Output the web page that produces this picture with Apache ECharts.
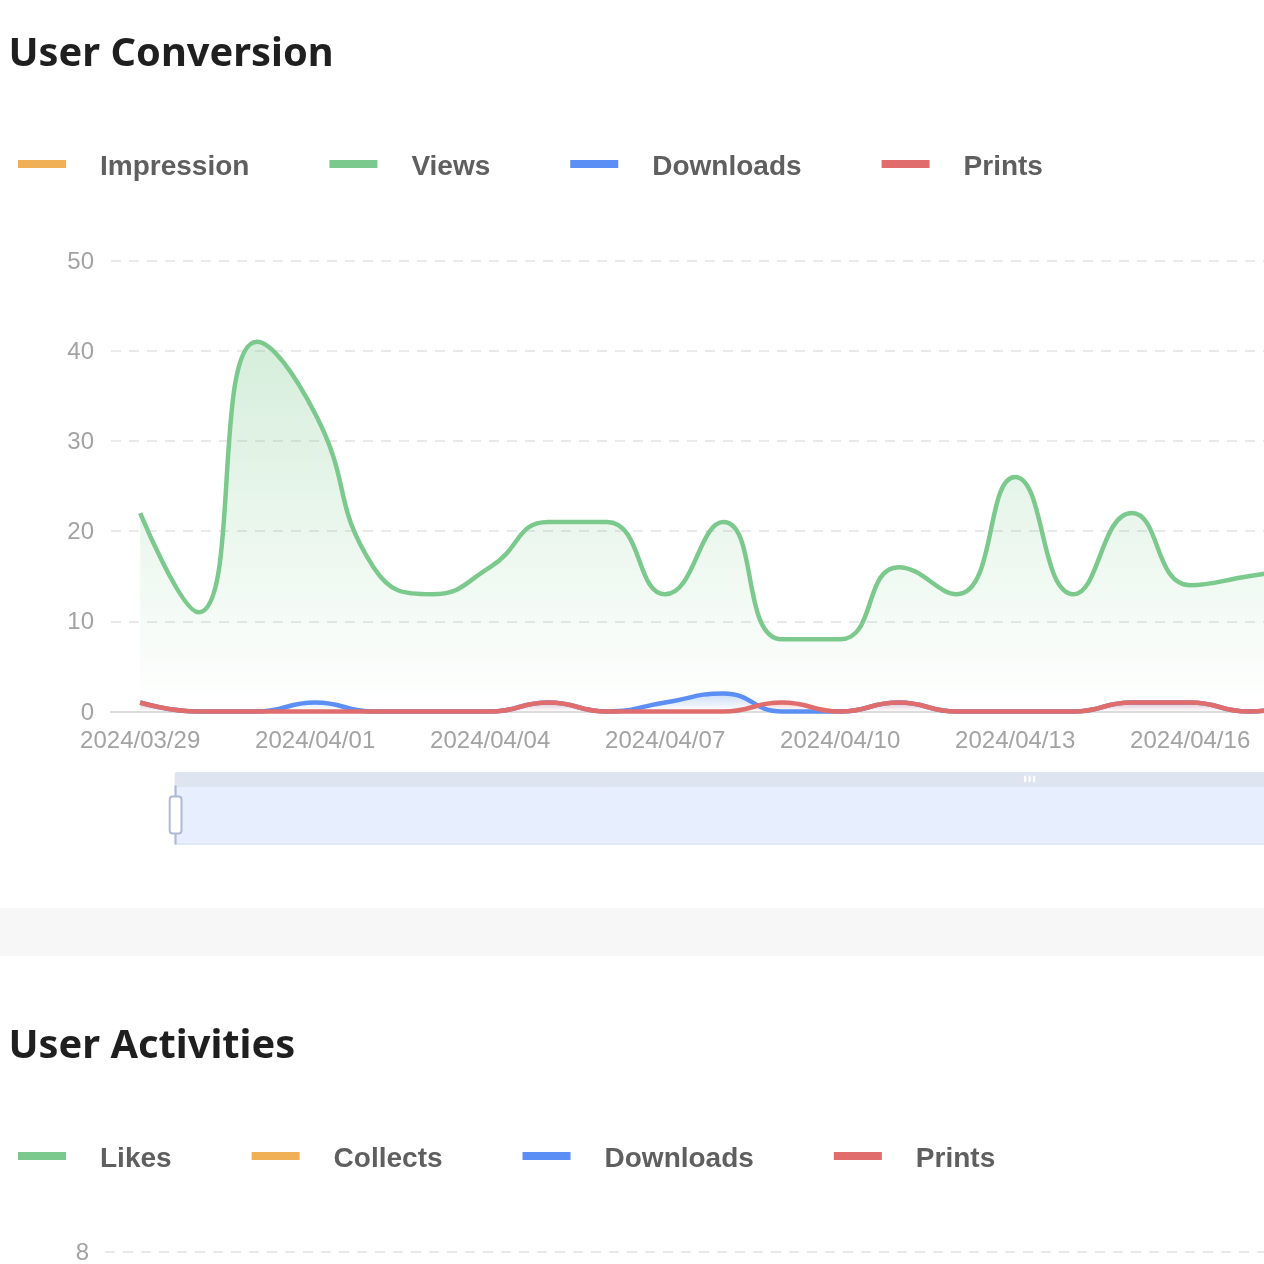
<!DOCTYPE html>
<html><head><meta charset="utf-8">
<style>
html,body{margin:0;padding:0;width:1264px;height:1264px;overflow:hidden;background:#fff}
#c1{position:absolute;left:0;top:0;width:1920px;height:908px}
#band{position:absolute;left:0;top:908px;width:1264px;height:48px;background:#f7f7f7}
#c2{position:absolute;left:0;top:956px;width:1920px;height:900px}
</style>
<script src="https://cdn.jsdelivr.net/npm/echarts@6/dist/echarts.min.js"></script>
</head><body>
<div id="c1"></div><div id="band"></div><div id="c2"></div>
<script>
const days = ['2024/03/29','2024/03/30','2024/03/31','2024/04/01','2024/04/02','2024/04/03','2024/04/04','2024/04/05','2024/04/06','2024/04/07','2024/04/08','2024/04/09','2024/04/10','2024/04/11','2024/04/12','2024/04/13','2024/04/14','2024/04/15','2024/04/16','2024/04/17','2024/04/18'];
const views = [22,11,41,33,16,13,16,21,21,13,21,8,8,16,13,26,13,22,14,15,16];
const downloads = [1,0,0,1,0,0,0,1,0,1,2,0,0,1,0,0,0,1,1,0,1];
const prints = [1,0,0,0,0,0,0,1,0,0,0,1,0,1,0,0,0,1,1,0,1];
const GREEN='#7cc98d', ORANGE='#f0b055', BLUE='#5b8ff5', RED='#e06c6c';
const FONT='"Liberation Sans",Arial,sans-serif';

function legendCfg(names,top){return {
  left:18,top:top,padding:0,itemWidth:48,itemHeight:8,itemGap:80,icon:'rect',
  data:names,
  formatter:'{a|{name}}',
  textStyle:{fontFamily:FONT,fontSize:28,fontWeight:'bold',color:'#5f5f5f',
    rich:{a:{fontFamily:FONT,fontSize:28,fontWeight:'bold',color:'#5f5f5f',padding:[6,0,0,29]}}}
};}
function titleCfg(text,top){return {
  text:text,left:8.5,top:top,padding:0,
  textStyle:{fontFamily:'"Noto Sans"',fontSize:39.8,fontWeight:'bold',color:'#1f1f1f'}
};}
function yAxisCfg(max,interval,margin){return {
  type:'value',min:0,max:max,interval:interval,
  axisLine:{show:false},axisTick:{show:false},
  axisLabel:{margin:margin,formatter:'{a|{value}}',
    rich:{a:{fontFamily:FONT,fontSize:24,color:'#a3a3a3',padding:[3,0,0,0]}}},
  splitLine:{lineStyle:{type:[10,8],color:'#e9e9e9',width:2}}
};}
function xAxisCfg(){return {
  type:'category',data:days,boundaryGap:true,
  axisLine:{lineStyle:{color:'#dcdcdc',width:2}},axisTick:{show:false},
  axisLabel:{fontFamily:FONT,fontSize:24,color:'#a3a3a3',margin:18,interval:2}
};}
function line(name,data,color){return {
  name:name,type:'line',data:data,smooth:true,showSymbol:false,clip:false,
  lineStyle:{width:4.5,color:color},itemStyle:{color:color},
  areaStyle:{color:new echarts.graphic.LinearGradient(0,0,0,1,[
    {offset:0,color:color+'73'},{offset:1,color:color+'00'}])}
};}

const c1=echarts.init(document.getElementById('c1'));
c1.setOption({
  animation:false,
  title:titleCfg('User Conversion',35),
  legend:legendCfg(['Impression','Views','Downloads','Prints'],153),
  grid:{left:111,width:1225,top:260.5,height:451},
  xAxis:xAxisCfg(),
  yAxis:yAxisCfg(50,10,17),
  dataZoom:[{type:'slider',left:169,right:41,top:772,height:59,start:0,end:100,showDetail:false,showDataShadow:false,
    moveHandleSize:14,moveHandleStyle:{color:'#dee4f0',opacity:1},
    borderColor:'#d2dbee',
    handleStyle:{borderColor:'#aeb9d4',borderWidth:2}}],
  series:[line('Impression',[],ORANGE),line('Views',views,GREEN),line('Downloads',downloads,BLUE),line('Prints',prints,RED)]
});

const c2=echarts.init(document.getElementById('c2'));
c2.setOption({
  animation:false,
  title:titleCfg('User Activities',71),
  legend:legendCfg(['Likes','Collects','Downloads','Prints'],189),
  grid:{left:105,width:1225,top:296,height:451},
  xAxis:xAxisCfg(),
  yAxis:yAxisCfg(8,2,16),
  series:[line('Likes',[],GREEN),line('Collects',[],ORANGE),line('Downloads',[],BLUE),line('Prints',[],RED)]
});
</script>
</body></html>
